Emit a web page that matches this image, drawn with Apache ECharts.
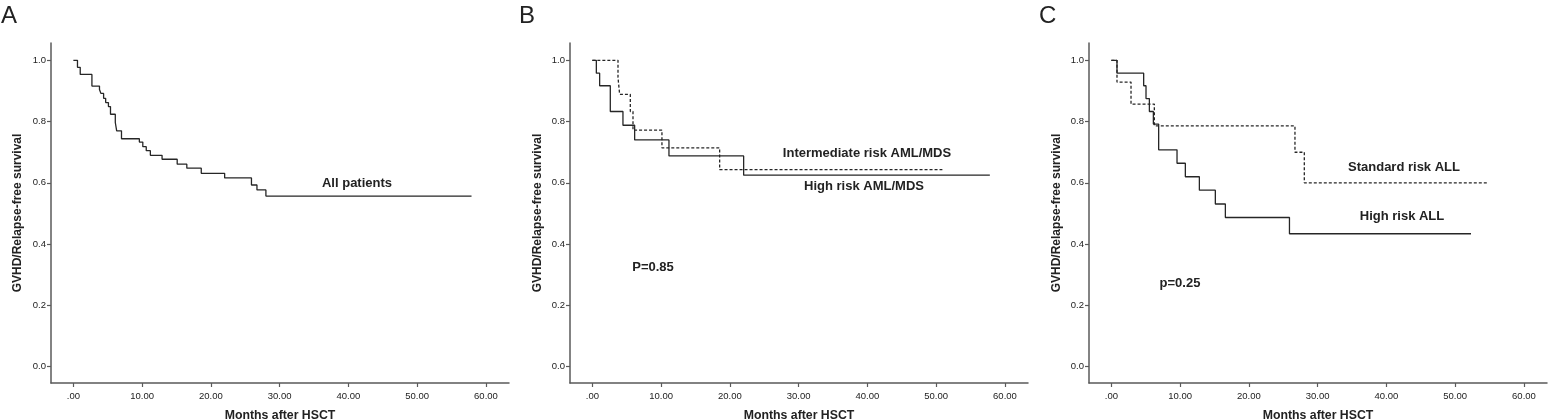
<!DOCTYPE html>
<html>
<head>
<meta charset="utf-8">
<script src="https://cdn.jsdelivr.net/npm/echarts@6/dist/echarts.min.js"></script>
<style>
html,body{margin:0;padding:0;background:#fff;}
#c{width:1548px;height:420px;}
</style>
</head>
<body>
<div id="c"></div>
<script>
// ---- Data ----
const xTickValues = [0, 10, 20, 30, 40, 50, 60];
const xTickLabels = ['.00', '10.00', '20.00', '30.00', '40.00', '50.00', '60.00'];
const yTickValues = [0, 0.2, 0.4, 0.6, 0.8, 1.0];
const yTickLabels = ['0.0', '0.2', '0.4', '0.6', '0.8', '1.0'];

// Panel A: all patients
const allTimes = [0, 0.6, 1.0, 2.7, 3.8, 4.0, 4.4, 4.7, 5.1, 5.4, 6.1, 6.3, 7.0, 9.6, 10.1, 10.6, 11.2, 12.9, 15.1, 16.5, 18.6, 22.0, 25.9, 26.7, 28.0, 57.9];
const allSurv  = [1.0, 0.977, 0.954, 0.916, 0.905, 0.892, 0.876, 0.862, 0.849, 0.824, 0.797, 0.770, 0.744, 0.733, 0.718, 0.705, 0.690, 0.677, 0.661, 0.648, 0.631, 0.616, 0.593, 0.577, 0.557, 0.557];

// Panel B: AML/MDS
const highAmlTimes = [0, 0.58, 1.06, 2.61, 4.45, 6.15, 11.14, 22.0, 57.8];
const highAmlSurv  = [1.0, 0.958, 0.917, 0.833, 0.788, 0.740, 0.688, 0.625, 0.625];
const interAmlTimes = [0, 3.73, 3.97, 5.52, 5.91, 10.12, 18.51, 50.9];
const interAmlSurv  = [1.0, 0.944, 0.889, 0.833, 0.772, 0.714, 0.643, 0.643];

// Panel C: ALL
const highAllTimes = [0, 0.82, 4.70, 5.04, 5.53, 6.11, 6.88, 9.55, 10.76, 12.8, 15.12, 16.58, 25.9, 52.3];
const highAllSurv  = [1.0, 0.958, 0.917, 0.875, 0.833, 0.792, 0.708, 0.664, 0.620, 0.576, 0.531, 0.487, 0.434, 0.434];
const stdAllTimes = [0, 0.82, 2.86, 6.25, 26.7, 28.06, 54.7];
const stdAllSurv  = [1.0, 0.929, 0.857, 0.786, 0.700, 0.600, 0.600];

const panelLetters = ['A', 'B', 'C'];
const yAxisTitle = 'GVHD/Relapse-free survival';
const xAxisTitle = 'Months after HSCT';

// ---- Build chart ----
const zip = (a, b) => a.map((t, i) => [t, b[i]]);
const FONT = '"Liberation Sans", Arial, sans-serif';
const AX = '#5a5a5a';
const TXT = '#222';

const gridLefts = [51, 570, 1089];
const grids = gridLefts.map(l => ({ left: l, top: 43, width: 458, height: 340, containLabel: false, outerBoundsMode: 'none' }));

const xAxes = grids.map((g, i) => ({
  type: 'value', gridIndex: i, min: -3.25, max: 63.35,
  splitLine: { show: false },
  axisLine: { show: true, onZero: false, lineStyle: { color: AX, width: 1.5 } },
  axisTick: { show: true, length: 4, customValues: xTickValues, lineStyle: { color: AX, width: 1.2 } },
  axisLabel: {
    customValues: xTickValues, margin: 8, color: TXT, fontSize: 9.5, fontFamily: FONT,
    formatter: v => { const k = xTickValues.findIndex(x => Math.abs(x - v) < 1e-6); return k >= 0 ? xTickLabels[k] : ''; }
  },
  name: xAxisTitle, nameLocation: 'middle', nameGap: 27,
  nameTextStyle: { fontSize: 12.3, fontWeight: 'bold', color: TXT, fontFamily: FONT }
}));

const yAxes = grids.map((g, i) => ({
  type: 'value', gridIndex: i, min: -0.0532, max: 1.0565,
  splitLine: { show: false },
  axisLine: { show: true, onZero: false, lineStyle: { color: AX, width: 1.5 } },
  axisTick: { show: true, length: 4, customValues: yTickValues, lineStyle: { color: AX, width: 1.2 } },
  axisLabel: {
    customValues: yTickValues, margin: 5, color: TXT, fontSize: 9.5, fontFamily: FONT,
    formatter: v => { const k = yTickValues.findIndex(x => Math.abs(x - v) < 1e-6); return k >= 0 ? yTickLabels[k] : ''; }
  },
  name: yAxisTitle, nameLocation: 'middle', nameRotate: 90, nameGap: i === 0 ? 27 : 26,
  nameTextStyle: { fontSize: 12, fontWeight: 'bold', color: TXT, fontFamily: FONT }
}));

function km(name, idx, times, surv, dashed) {
  return {
    name, type: 'line', xAxisIndex: idx, yAxisIndex: idx, step: 'end',
    data: zip(times, surv), symbol: 'none', silent: true, animation: false,
    lineStyle: { color: '#262626', width: 1.3, type: dashed ? [3, 2] : 'solid' }
  };
}

const series = [
  km('All patients', 0, allTimes, allSurv, false),
  km('High risk AML/MDS', 1, highAmlTimes, highAmlSurv, false),
  km('Intermediate risk AML/MDS', 1, interAmlTimes, interAmlSurv, true),
  km('High risk ALL', 2, highAllTimes, highAllSurv, false),
  km('Standard risk ALL', 2, stdAllTimes, stdAllSurv, true)
];

function label(text, x, y, size, weight, align) {
  return { type: 'text', x, y, style: { text, fill: TXT, font: (weight || 'bold') + ' ' + (size || 13) + 'px ' + FONT, textAlign: align || 'center', textVerticalAlign: 'middle' } };
}

const graphic = [
  label(panelLetters[0], 1, 16, 24, 'normal', 'left'),
  label(panelLetters[1], 519, 16, 24, 'normal', 'left'),
  label(panelLetters[2], 1039, 16, 24, 'normal', 'left'),
  label('All patients', 357, 183),
  label('Intermediate risk AML/MDS', 867, 153),
  label('High risk AML/MDS', 864, 186),
  label('P=0.85', 653, 267),
  label('Standard risk ALL', 1404, 167),
  label('High risk ALL', 1402, 216),
  label('p=0.25', 1180, 283)
];

const chart = echarts.init(document.getElementById('c'), null, { renderer: 'canvas' });
chart.setOption({
  backgroundColor: '#fff',
  animation: false,
  grid: grids, xAxis: xAxes, yAxis: yAxes, series, graphic
});
</script>
</body>
</html>
